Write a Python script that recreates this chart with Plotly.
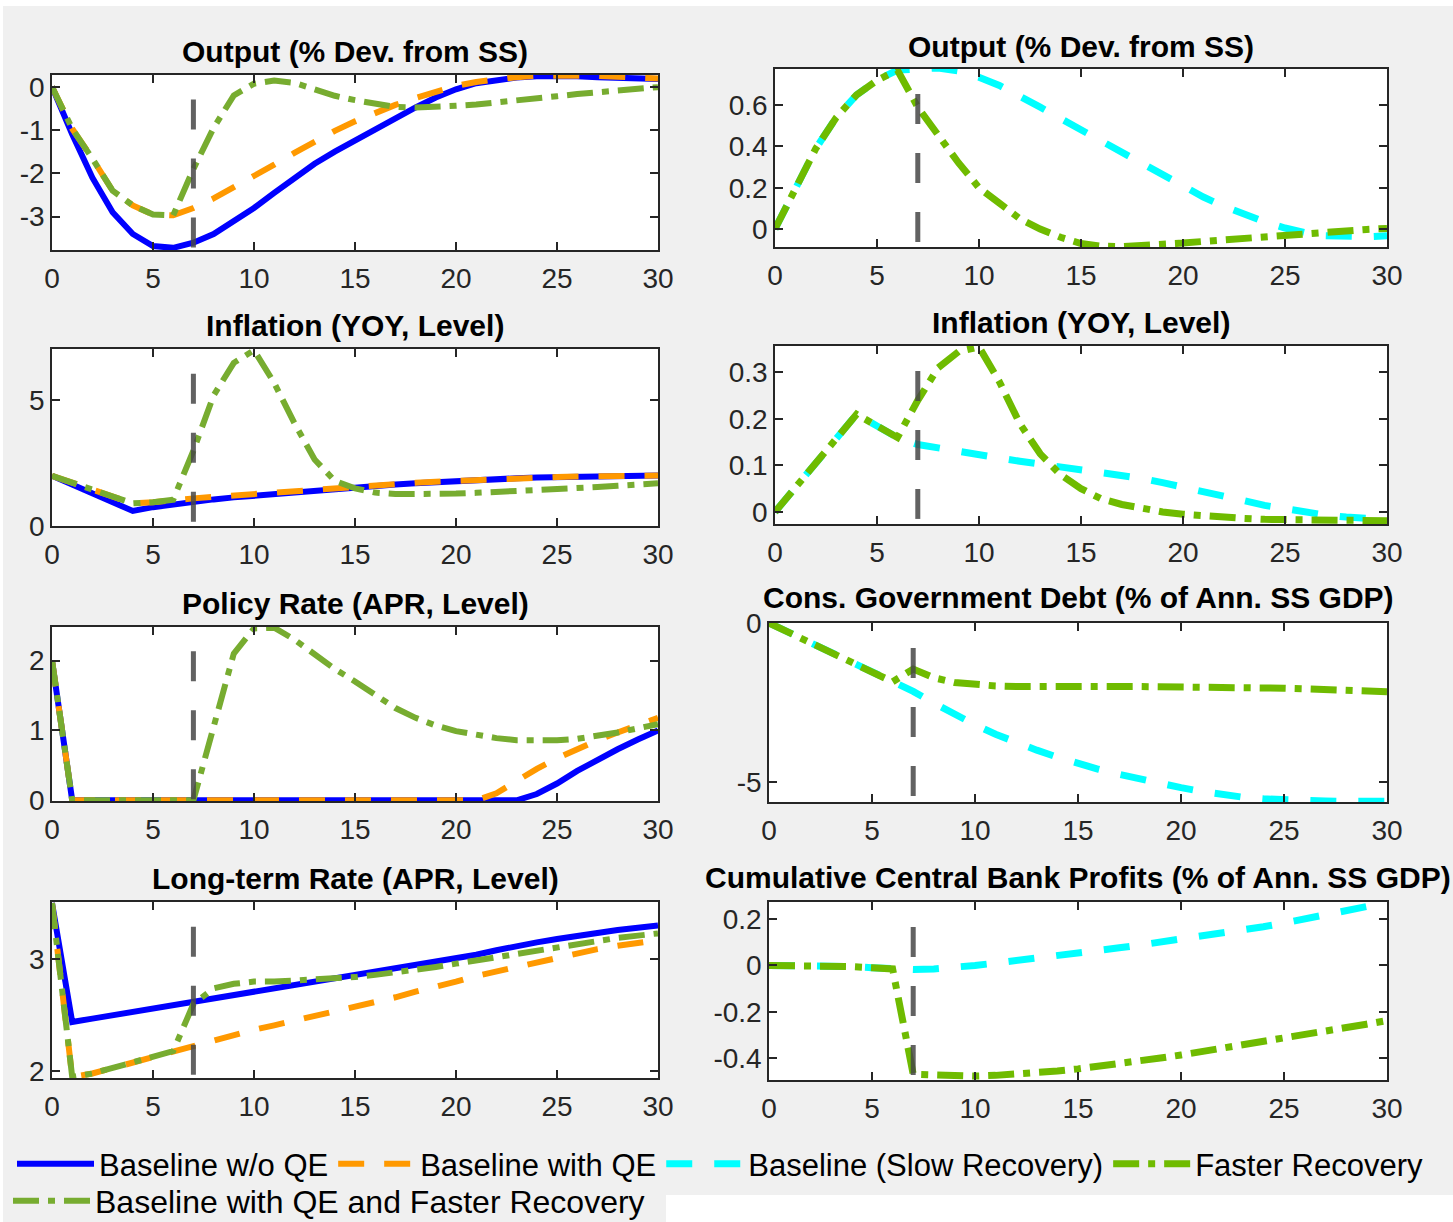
import plotly.graph_objects as go

# ---------------------------------------------------------------------------
# Data: quarterly impulse responses (horizon 0..30)
# ---------------------------------------------------------------------------
quarters = list(range(31))
shock_end = 7  # quarter at which the recovery scenario kicks in

# Left block: QE experiments
output_no_qe = [0, -1.1, -2.1, -2.9, -3.4, -3.68, -3.72, -3.6, -3.4, -3.12, -2.8, -2.45, -2.1,
                -1.78, -1.5, -1.24, -0.98, -0.72, -0.48, -0.25, -0.06, 0.08, 0.16, 0.21, 0.24,
                0.25, 0.24, 0.22, 0.2, 0.19, 0.18]
output_qe = [0, -0.97, -1.66, -2.4, -2.74, -2.95, -2.97, -2.8, -2.58, -2.33, -2.07, -1.8, -1.53,
             -1.27, -1.02, -0.8, -0.6, -0.42, -0.26, -0.11, 0.02, 0.11, 0.18, 0.22, 0.25, 0.26,
             0.26, 0.25, 0.23, 0.21, 0.19]
output_qe_fast = [0, -0.97, -1.66, -2.4, -2.74, -2.95, -2.97, -1.9, -0.95, -0.2, 0.07, 0.14, 0.09,
                  -0.06, -0.21, -0.31, -0.4, -0.47, -0.48, -0.47, -0.44, -0.41, -0.37, -0.33,
                  -0.28, -0.22, -0.17, -0.13, -0.09, -0.05, -0.01]

inflation_no_qe = [2.0, 1.65, 1.3, 0.95, 0.6, 0.75, 0.87, 0.97, 1.06, 1.14, 1.21, 1.28, 1.35, 1.42,
                   1.48, 1.54, 1.6, 1.65, 1.7, 1.75, 1.8, 1.84, 1.87, 1.9, 1.93, 1.95, 1.97, 1.98,
                   1.99, 2.0, 2.01]
inflation_qe = [2.0, 1.72, 1.44, 1.16, 0.9, 0.95, 1.05, 1.1, 1.16, 1.22, 1.28, 1.34, 1.4, 1.46,
                1.52, 1.57, 1.62, 1.67, 1.72, 1.76, 1.8, 1.84, 1.87, 1.9, 1.93, 1.95, 1.97, 1.98,
                1.99, 2.0, 2.01]
inflation_qe_fast = [2.0, 1.72, 1.44, 1.16, 0.9, 0.95, 1.05, 3.0, 5.2, 6.5, 7.0, 5.7, 4.1, 2.65,
                     1.8, 1.5, 1.33, 1.27, 1.26, 1.27, 1.29, 1.32, 1.35, 1.39, 1.43, 1.47, 1.51,
                     1.55, 1.6, 1.65, 1.7]

policy_no_qe = [2.0] + [0.0] * 23 + [0.09, 0.24, 0.42, 0.58, 0.73, 0.87, 1.0]
policy_qe = [2.0] + [0.0] * 21 + [0.1, 0.28, 0.45, 0.6, 0.74, 0.86, 0.97, 1.08, 1.18]
policy_qe_fast = [2.0, 0, 0, 0, 0, 0, 0, 0, 1.05, 2.1, 2.46, 2.47, 2.3, 2.08, 1.88, 1.7, 1.5,
                  1.32, 1.18, 1.07, 0.99, 0.93, 0.89, 0.86, 0.85, 0.86, 0.88, 0.92, 0.97, 1.03,
                  1.09]

longrate_no_qe = [3.5, 2.44, 2.47, 2.5, 2.53, 2.56, 2.59, 2.62, 2.65, 2.67, 2.7, 2.73, 2.76, 2.79,
                  2.82, 2.85, 2.88, 2.91, 2.94, 2.97, 3.0, 3.04, 3.08, 3.12, 3.15, 3.18, 3.21,
                  3.24, 3.26, 3.28, 3.3]
longrate_qe = [3.5, 1.95, 1.98, 2.03, 2.08, 2.13, 2.18, 2.23, 2.27, 2.32, 2.37, 2.41, 2.45, 2.49,
               2.53, 2.57, 2.62, 2.66, 2.71, 2.75, 2.8, 2.85, 2.89, 2.94, 2.98, 3.02, 3.05, 3.09,
               3.12, 3.15, 3.17]
longrate_qe_fast = [3.5, 1.95, 1.98, 2.03, 2.08, 2.13, 2.18, 2.6, 2.74, 2.78, 2.8, 2.8, 2.81, 2.81,
                    2.82, 2.84, 2.86, 2.88, 2.9, 2.93, 2.96, 2.99, 3.02, 3.05, 3.08, 3.11, 3.14,
                    3.17, 3.19, 3.21, 3.23]

# Right block: recovery-speed experiments
output_slow = [0, 0.2, 0.39, 0.54, 0.65, 0.72, 0.77, 0.775, 0.78, 0.765, 0.735, 0.695, 0.645,
               0.59, 0.535, 0.48, 0.425, 0.37, 0.315, 0.26, 0.205, 0.155, 0.11, 0.07, 0.035,
               0.005, -0.018, -0.032, -0.038, -0.037, -0.033]
output_fast = [0, 0.2, 0.39, 0.54, 0.65, 0.72, 0.77, 0.59, 0.45, 0.32, 0.2, 0.12, 0.05, 0.0,
               -0.04, -0.07, -0.083, -0.085, -0.082, -0.076, -0.068, -0.06, -0.052, -0.044,
               -0.036, -0.028, -0.021, -0.014, -0.008, -0.002, 0.003]

inflation_slow = [0, 0.052, 0.105, 0.157, 0.21, 0.185, 0.16, 0.145, 0.137, 0.13, 0.123, 0.116,
                  0.109, 0.103, 0.097, 0.091, 0.085, 0.079, 0.072, 0.063, 0.054, 0.044, 0.034,
                  0.024, 0.014, 0.006, -0.001, -0.007, -0.011, -0.014, -0.016]
inflation_fast = [0, 0.052, 0.105, 0.157, 0.21, 0.185, 0.16, 0.24, 0.31, 0.345, 0.355, 0.28, 0.19,
                  0.125, 0.08, 0.05, 0.028, 0.016, 0.007, 0.0, -0.005, -0.009, -0.012, -0.014,
                  -0.016, -0.017, -0.018, -0.018, -0.019, -0.019, -0.019]

debt_slow = [0, -0.3, -0.6, -0.93, -1.25, -1.55, -1.85, -2.15, -2.52, -2.88, -3.2, -3.5, -3.76,
             -4.0, -4.22, -4.42, -4.6, -4.76, -4.91, -5.05, -5.18, -5.3, -5.4, -5.48, -5.53,
             -5.57, -5.59, -5.6, -5.61, -5.61, -5.61]
debt_fast = [0, -0.3, -0.6, -0.93, -1.25, -1.55, -1.85, -1.45, -1.72, -1.87, -1.94, -1.98, -2.0,
             -2.01, -2.01, -2.01, -2.01, -2.0, -2.0, -2.0, -2.0, -2.0, -2.01, -2.02, -2.03,
             -2.05, -2.07, -2.09, -2.11, -2.13, -2.16]

cb_profits_slow = [0, 0.0, 0.0, 0.0, -0.005, -0.01, -0.015, -0.018, -0.015, -0.01, 0.0, 0.01,
                   0.02, 0.03, 0.04, 0.052, 0.064, 0.076, 0.088, 0.1, 0.113, 0.125, 0.138, 0.152,
                   0.167, 0.183, 0.2, 0.217, 0.235, 0.253, 0.272]
cb_profits_fast = [0, 0.0, 0.0, 0.0, -0.005, -0.01, -0.015, -0.47, -0.475, -0.478, -0.478, -0.475,
                   -0.47, -0.465, -0.456, -0.447, -0.437, -0.426, -0.413, -0.4, -0.387, -0.373,
                   -0.359, -0.345, -0.331, -0.316, -0.301, -0.286, -0.27, -0.254, -0.238]

x_tick_vals = [0, 5, 10, 15, 20, 25, 30]
x_tick_text = ["0", "5", "10", "15", "20", "25", "30"]

# ---------------------------------------------------------------------------
# Series styles
# ---------------------------------------------------------------------------
FONT = "Liberation Sans, Arial, Helvetica, sans-serif"
AX = "#262626"

styles = {
    "Baseline w/o QE": dict(color="#0000ff", width=6, dash="solid", rank=1, legend="legend"),
    "Baseline with QE": dict(color="#ff9900", width=6, dash="26px,20px", rank=2, legend="legend"),
    "Baseline (Slow Recovery)": dict(color="#00ffff", width=7, dash="26px,22px", rank=3,
                                     legend="legend"),
    "Faster Recovery": dict(color="#6fbb00", width=7, dash="26px,9px,7px,9px", rank=4,
                            legend="legend"),
    "Baseline with QE and Faster Recovery": dict(color="#77ac30", width=6,
                                                 dash="26px,9px,7px,9px", rank=5,
                                                 legend="legend2"),
}

left_names = ["Baseline w/o QE", "Baseline with QE", "Baseline with QE and Faster Recovery"]
right_names = ["Baseline (Slow Recovery)", "Faster Recovery"]

W, H = 1453, 1222

# (title, series, x pixel span, y pixel span, y range, y ticks, y tick labels, title y)
panels = [
    ("Output (% Dev. from SS)", dict(zip(left_names, [output_no_qe, output_qe, output_qe_fast])),
     (52, 658), (75, 250), [-3.77, 0.27], [-3, -2, -1, 0], ["-3", "-2", "-1", "0"], 52),
    ("Inflation (YOY, Level)", dict(zip(left_names, [inflation_no_qe, inflation_qe, inflation_qe_fast])),
     (52, 658), (349, 526), [0, 7.05], [0, 5], ["0", "5"], 325),
    ("Policy Rate (APR, Level)", dict(zip(left_names, [policy_no_qe, policy_qe, policy_qe_fast])),
     (52, 658), (627, 801), [-0.01, 2.48], [0, 1, 2], ["0", "1", "2"], 603),
    ("Long-term Rate (APR, Level)", dict(zip(left_names, [longrate_no_qe, longrate_qe, longrate_qe_fast])),
     (52, 658), (902, 1078), [1.94, 3.51], [2, 3], ["2", "3"], 878),
    ("Output (% Dev. from SS)", dict(zip(right_names, [output_slow, output_fast])),
     (775, 1387), (69, 247), [-0.087, 0.775], [0, 0.2, 0.4, 0.6], ["0", "0.2", "0.4", "0.6"], 46),
    ("Inflation (YOY, Level)", dict(zip(right_names, [inflation_slow, inflation_fast])),
     (775, 1387), (346, 524), [-0.026, 0.357], [0, 0.1, 0.2, 0.3], ["0", "0.1", "0.2", "0.3"], 322),
    ("Cons. Government Debt (% of Ann. SS GDP)", dict(zip(right_names, [debt_slow, debt_fast])),
     (769, 1387), (623, 802), [-5.63, 0.0], [-5, 0], ["-5", "0"], 598),
    ("Cumulative Central Bank Profits (% of Ann. SS GDP)",
     dict(zip(right_names, [cb_profits_slow, cb_profits_fast])),
     (769, 1387), (902, 1080), [-0.495, 0.274], [-0.4, -0.2, 0, 0.2],
     ["-0.4", "-0.2", "0", "0.2"], 877),
]

fig = go.Figure()
layout = {}
annotations = []
shapes = [
    # thin white borders of the canvas
    dict(type="rect", xref="paper", yref="paper", x0=0, x1=1, y0=1 - 6 / H, y1=1,
         fillcolor="white", line_width=0, layer="below"),
    dict(type="rect", xref="paper", yref="paper", x0=666 / W, x1=1, y0=0, y1=27 / H,
         fillcolor="white", line_width=0, layer="below"),
    dict(type="rect", xref="paper", yref="paper", x0=0, x1=3 / W, y0=0, y1=1,
         fillcolor="white", line_width=0, layer="below"),
]
shown = set()

for i, (title, series, (px0, px1), (py0, py1), yr, ytv, ytt, ty) in enumerate(panels):
    n = i + 1
    sx = "" if n == 1 else str(n)
    for name, values in series.items():
        st = styles[name]
        fig.add_trace(go.Scatter(
            x=quarters, y=values, mode="lines", name=name,
            xaxis="x" + sx, yaxis="y" + sx,
            line=dict(color=st["color"], width=st["width"], dash=st["dash"]),
            showlegend=name not in shown, legendrank=st["rank"], legend=st["legend"],
            hoverinfo="skip",
        ))
        shown.add(name)

    common = dict(showline=True, linecolor=AX, linewidth=1.5, mirror="ticks",
                  ticks="inside", ticklen=8, tickwidth=1.5, tickcolor=AX,
                  showgrid=False, zeroline=False,
                  tickfont=dict(family=FONT, size=28, color=AX))
    layout["xaxis" + sx] = dict(domain=[px0 / W, px1 / W], range=[0, 30], anchor="y" + sx,
                                tickvals=x_tick_vals, ticktext=x_tick_text,
                                ticklabelstandoff=3, **common)
    layout["yaxis" + sx] = dict(domain=[1 - py1 / H, 1 - py0 / H], range=yr, anchor="x" + sx,
                                tickvals=ytv, ticktext=ytt, ticklabelstandoff=0, **common)

    annotations.append(dict(text="<b>" + title + "</b>", xref="paper", yref="paper",
                            x=(px0 + px1) / 2 / W, y=1 - ty / H, xanchor="center",
                            yanchor="middle", showarrow=False,
                            font=dict(family=FONT, size=30, color="black")))

    # vertical marker at the end of the initial shock phase
    shapes.append(dict(type="line", xref="x" + sx, yref="y" + sx + " domain",
                       x0=shock_end, x1=shock_end, y0=0.86, y1=0,
                       line=dict(color="rgba(70,70,70,0.85)", width=5, dash="30px,29px"),
                       layer="above"))

legend_common = dict(orientation="h", xanchor="left", yanchor="middle",
                     bgcolor="rgba(0,0,0,0)", itemwidth=77, tracegroupgap=0)

fig.update_layout(
    width=W, height=H,
    margin=dict(l=0, r=0, t=0, b=0, autoexpand=False),
    paper_bgcolor="#f0f0f0",
    plot_bgcolor="white",
    font=dict(family=FONT, size=28, color="black"),
    annotations=annotations,
    shapes=shapes,
    legend=dict(x=12 / W, y=1 - 1164 / H, font=dict(family=FONT, size=31, color="black"),
                **legend_common),
    legend2=dict(x=8 / W, y=1 - 1201 / H, font=dict(family=FONT, size=32, color="black"),
                 **legend_common),
    **layout,
)

fig.write_html("out.html")
